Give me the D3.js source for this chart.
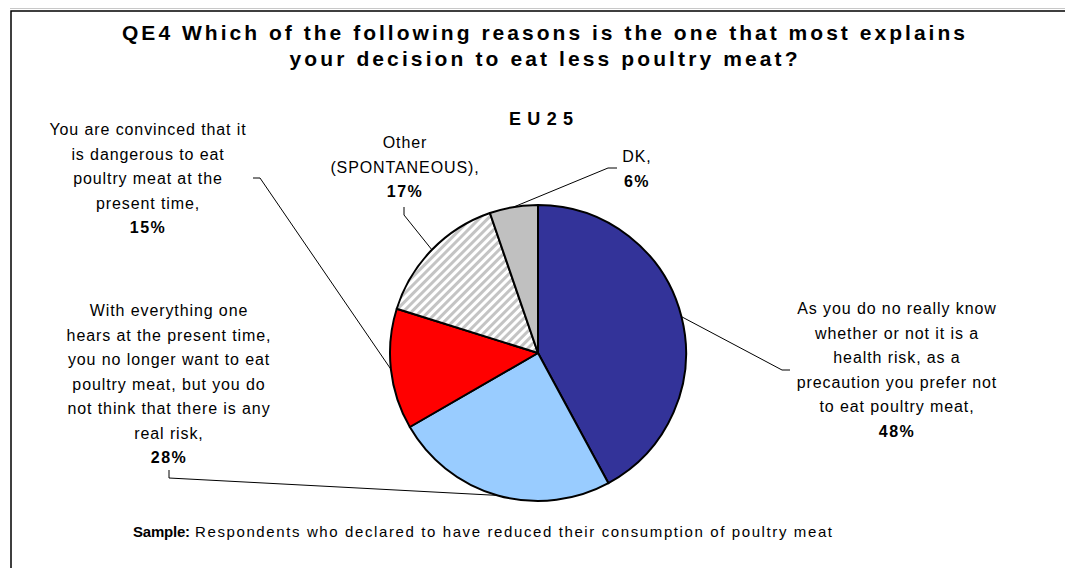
<!DOCTYPE html>
<html><head><meta charset="utf-8">
<script src="https://cdn.jsdelivr.net/npm/d3@7"></script>
<style>
html,body{margin:0;padding:0;background:#fff;}
svg{display:block;font-family:Arial,"Liberation Sans",sans-serif;}
</style></head>
<body>
<svg id="chart" width="1065" height="568"></svg>
<script>
// ---- data ----
const titleLines = ["QE4 Which of the following reasons is the one that most explains",
                    "your decision to eat less poultry meat?"];
const subtitle = "EU25";
const categories = [
  ["As you do no really know","whether or not it is a","health risk, as a","precaution you prefer not","to eat poultry meat,"],
  ["With everything one","hears at the present time,","you no longer want to eat","poultry meat, but you do","not think that there is any","real risk,"],
  ["You are convinced that it","is dangerous to eat","poultry meat at the","present time,"],
  ["Other","(SPONTANEOUS),"],
  ["DK,"]
];
const values = [48, 28, 15, 17, 6];
const sliceFills = ["#333399","#99ccff","#ff0000","url(#hatch)","#c0c0c0"];
const noteBold = "Sample:";
const noteText = "Respondents who declared to have reduced their consumption of poultry meat";

// ---- layout ----
const cx = 538, cy = 353, R = 148, lineH = 24.5;
const labelLayout = [
  {x: 897, y: 314,   leader: [[790,370],[782,370]]},
  {x: 169, y: 316,   leader: [[169,470],[169,478]]},
  {x: 148, y: 135,   leader: [[253,178],[260,178]]},
  {x: 405, y: 148,   leader: [[404,207],[404,215]]},
  {x: 637, y: 162,   leader: [[617,168],[608,168]]}
];

const svg = d3.select("#chart");
const defs = svg.append("defs");
const pat = defs.append("pattern").attr("id","hatch")
  .attr("patternUnits","userSpaceOnUse").attr("width",6).attr("height",6)
  .attr("patternTransform","rotate(45)");
pat.append("rect").attr("width",6).attr("height",6).attr("fill","#fff");
pat.append("rect").attr("width",3).attr("height",6).attr("fill","#c4c4c4");

// frame
svg.append("line").attr("x1",10).attr("x2",1065).attr("y1",8.5).attr("y2",8.5)
  .attr("stroke","#c8c8c8").attr("stroke-width",1);
svg.append("path").attr("d","M11,568 V11 H1065").attr("fill","none")
  .attr("stroke","#000").attr("stroke-width",1.5);

// title
const tl = [{t:titleLines[0], y:40, w:843},{t:titleLines[1], y:66, w:508}];
svg.selectAll("text.title").data(tl).join("text").attr("class","title")
  .attr("x",543.5).attr("y",d=>d.y).attr("text-anchor","middle")
  .attr("font-size",21).attr("font-weight","bold")
  .attr("textLength",d=>d.w).attr("lengthAdjust","spacing").text(d=>d.t);

svg.append("text").attr("x",541).attr("y",125).attr("text-anchor","middle")
  .attr("font-size",18).attr("font-weight","bold")
  .attr("textLength",64).attr("lengthAdjust","spacing").text(subtitle);

// pie
const pie = d3.pie().sort(null).value(d=>d)(values);
const arc = d3.arc().innerRadius(0).outerRadius(R);
const edge = d3.arc().innerRadius(R).outerRadius(R);
const g = svg.append("g").attr("transform",`translate(${cx},${cy})`);
g.selectAll("path").data(pie).join("path")
  .attr("d",arc).attr("fill",(d,i)=>sliceFills[i])
  .attr("stroke","#000").attr("stroke-width",2).attr("stroke-linejoin","round");

// leaders
const line = d3.line();
pie.forEach((d,i)=>{
  const c = edge.centroid(d);
  const pts = labelLayout[i].leader.concat([[c[0]+cx, c[1]+cy]]);
  svg.append("path").attr("d",line(pts)).attr("fill","none")
    .attr("stroke","#000").attr("stroke-width",1);
});

// labels
categories.forEach((lines,i)=>{
  const L = labelLayout[i];
  const t = svg.append("g");
  lines.forEach((s,k)=>{
    t.append("text").attr("x",L.x).attr("y",L.y + k*lineH)
      .attr("text-anchor","middle").attr("font-size",16)
      .attr("letter-spacing",0.9).attr("fill","#000").text(s);
  });
  t.append("text").attr("x",L.x).attr("y",L.y + lines.length*lineH)
    .attr("text-anchor","middle").attr("font-size",16).attr("font-weight","bold")
    .attr("letter-spacing",1.5).attr("fill","#000").text(values[i] + "%");
});

// note
svg.append("text").attr("x",133).attr("y",537).attr("font-size",15).attr("font-weight","bold")
  .attr("textLength",57).attr("lengthAdjust","spacing").text(noteBold);
svg.append("text").attr("x",195).attr("y",537).attr("font-size",15)
  .attr("textLength",637).attr("lengthAdjust","spacing").text(noteText);
</script>
</body></html>
